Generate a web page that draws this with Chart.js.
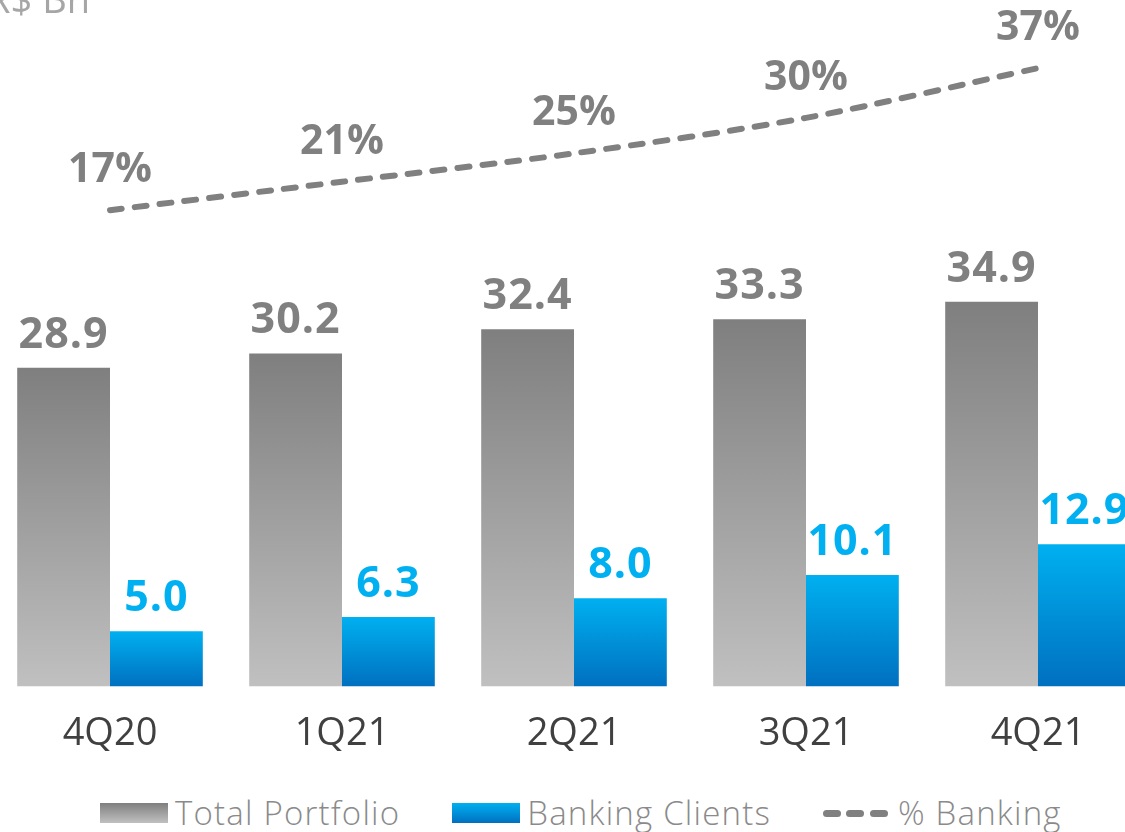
<!DOCTYPE html>
<html>
<head>
<meta charset="utf-8">
<script src="https://cdn.jsdelivr.net/npm/chart.js@4.4.1/dist/chart.umd.min.js"></script>
<style>
  html, body { margin: 0; padding: 0; background: #fff; }
  body { width: 1125px; height: 832px; overflow: hidden; position: relative; font-family: "Open Sans", sans-serif; }
  #wrap { position: absolute; left: -6px; top: 0; width: 1160px; height: 782px; }
  #legend { position: absolute; left: 100px; top: 793px; display: flex; align-items: center; color: #8a8a8a; font-size: 33px; font-weight: 300; letter-spacing: 1.2px; line-height: 40px; white-space: nowrap; }
  #legend .item { display: flex; align-items: center; margin-right: 52px; }
  #legend .box { width: 68px; height: 20px; margin-right: 7px; }
  #legend .dashes { display: flex; width: 65px; margin-right: 10px; justify-content: space-between; }
  #legend .dashes span { width: 18px; height: 7px; border-radius: 4px; background: #808080; }
</style>
</head>
<body>
<div id="wrap"><canvas id="chart"></canvas></div>
<div id="legend"></div>
<script>
const quarters = ["4Q20", "1Q21", "2Q21", "3Q21", "4Q21"];
const totalPortfolio = [28.9, 30.2, 32.4, 33.3, 34.9];
const bankingClients = [5.0, 6.3, 8.0, 10.1, 12.9];
const pctBanking = [17, 21, 25, 30, 37];

const grayTop = "#7f7f7f", grayBottom = "#c0c0c0";
const blueTop = "#00b0f0", blueBottom = "#0070c0";

function barGradient(top, bottom) {
  return (context) => {
    const chart = context.chart;
    const y = chart.scales.y;
    if (!y || context.raw == null) return top;
    const y0 = y.getPixelForValue(context.raw);
    const y1 = y.getPixelForValue(0);
    if (!isFinite(y0) || !isFinite(y1) || y0 === y1) return top;
    const g = chart.ctx.createLinearGradient(0, y0, 0, y1);
    g.addColorStop(0, top);
    g.addColorStop(1, bottom);
    return g;
  };
}

// value labels above bars and line points, plus the unit note in the corner
const labelsPlugin = {
  id: "valueLabels",
  afterDatasetsDraw(chart) {
    const ctx = chart.ctx;
    ctx.save();
    ctx.textAlign = "center";
    ctx.textBaseline = "alphabetic";
    chart.data.datasets.forEach((ds, i) => {
      const meta = chart.getDatasetMeta(i);
      meta.data.forEach((el, j) => {
        const v = ds.data[j];
        if (ds.type === "line") {
          ctx.letterSpacing = "0px";
          ctx.font = "bold 41px 'Open Sans'";
          ctx.fillStyle = "#808080";
          ctx.fillText(v + "%", el.x, el.y - 28);
        } else {
          ctx.letterSpacing = "1px";
          ctx.font = "bold 43px 'Open Sans'";
          ctx.fillStyle = ds.labelColor;
          ctx.fillText(v.toFixed(1), el.x, el.y - 20);
        }
      });
    });
    ctx.letterSpacing = "0px";
    ctx.font = "38px 'Open Sans'";
    ctx.fillStyle = "#a6a6a6";
    ctx.textAlign = "right";
    ctx.fillText("R$ Bn", 96, 13);
    ctx.restore();
  }
};

const chart = new Chart(document.getElementById("chart"), {
  type: "bar",
  data: {
    labels: quarters,
    datasets: [
      {
        type: "line",
        label: "% Banking",
        data: pctBanking,
        yAxisID: "y2",
        borderColor: "#808080",
        borderWidth: 6,
        borderDash: [12, 13],
        borderCapStyle: "round",
        pointRadius: 0,
        tension: 0.3,
        fill: false,
        order: 0
      },
      {
        label: "Total Portfolio",
        data: totalPortfolio,
        yAxisID: "y",
        backgroundColor: barGradient(grayTop, grayBottom),
        labelColor: "#808080",
        categoryPercentage: 0.8,
        barPercentage: 1.0,
        order: 1
      },
      {
        label: "Banking Clients",
        data: bankingClients,
        yAxisID: "y",
        backgroundColor: barGradient(blueTop, blueBottom),
        labelColor: "#00b0f0",
        categoryPercentage: 0.8,
        barPercentage: 1.0,
        order: 1
      }
    ]
  },
  options: {
    responsive: true,
    maintainAspectRatio: false,
    animation: false,
    layout: { padding: { top: 20, bottom: 0, left: 0, right: 0 } },
    plugins: {
      legend: { display: false },
      tooltip: { enabled: false }
    },
    scales: {
      x: {
        grid: { display: false, drawTicks: false },
        border: { display: false },
        ticks: { color: "#404040", font: { family: "Open Sans", size: 38 }, padding: 25 }
      },
      y: { display: false, min: 0, max: 60.45 },
      y2: { display: false, min: -50.07, max: 43.78 }
    }
  },
  plugins: [labelsPlugin]
});

// html legend built from the datasets
const legendEl = document.getElementById("legend");
[1, 2, 0].forEach((i) => {
  const ds = chart.data.datasets[i];
  const item = document.createElement("div");
  item.className = "item";
  if (ds.type === "line") {
    const d = document.createElement("div");
    d.className = "dashes";
    d.innerHTML = "<span></span><span></span><span></span>";
    item.appendChild(d);
  } else {
    const b = document.createElement("div");
    b.className = "box";
    b.style.background = i === 1
      ? `linear-gradient(${grayTop}, ${grayBottom})`
      : `linear-gradient(${blueTop}, ${blueBottom})`;
    item.appendChild(b);
  }
  const t = document.createElement("span");
  t.textContent = ds.label;
  item.appendChild(t);
  legendEl.appendChild(item);
});
</script>
</body>
</html>
